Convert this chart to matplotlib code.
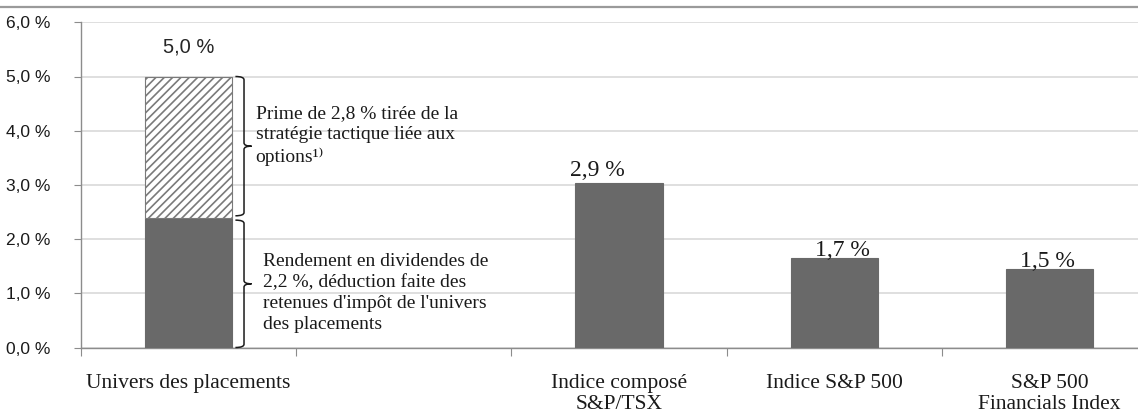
import matplotlib
matplotlib.use("Agg")
import matplotlib.pyplot as plt
from matplotlib.lines import Line2D
from matplotlib.path import Path
from matplotlib.patches import PathPatch

# data
categories = ['Univers des placements', 'Indice composé\nS&P/TSX',
              'Indice S&P 500', 'S&P 500\nFinancials Index']
dividend = [2.39, 3.03, 1.66, 1.45]      # solid part of each bar
premium = [2.61, 0, 0, 0]                # hatched part (options strategy)
value_labels = ['5,0 %', '2,9 %', '1,7 %', '1,5 %']
yticks = [0, 1, 2, 3, 4, 5, 6]
ytick_labels = ['0,0 %', '1,0 %', '2,0 %', '3,0 %', '4,0 %', '5,0 %', '6,0 %']
note_premium = 'Prime de 2,8 % tirée de la\nstratégie tactique liée aux\noptions\u00b9\u207e'
note_dividend = ("Rendement en dividendes de\n2,2 %, déduction faite des\n"
                 "retenues d'impôt de l'univers\ndes placements")

# layout: one empty slot between the first bar and the indices
slots = [0, 2, 3, 4]
label_dx = [0, -0.1, 0.04, -0.01]
label_dy = [0.55, 0.13, 0.03, 0.03]
width = 0.405
bar_col = '#696969'
grid_col = '#d9d9d9'
axis_col = '#8c8c8c'
serif = ['Liberation Serif', 'DejaVu Serif']
sans = 'Liberation Sans'

fig = plt.figure(figsize=(11.38, 4.13), dpi=100)
ax = fig.add_axes([81 / 1138, 1 - 347.5 / 413, 1076 / 1138, 325.2 / 413])

plt.rcParams['hatch.linewidth'] = 1.2
ax.bar(slots, dividend, width, color=bar_col, edgecolor=bar_col, linewidth=0.8, zorder=3)
ax.bar(slots[:1], premium[:1], width, bottom=dividend[:1], color='white',
       edgecolor='#7a7a7a', hatch='////', linewidth=0.8, zorder=3)

ax.set_xlim(-0.5, 4.5)
ax.set_ylim(0, 6)
ax.set_yticks(yticks)
ax.set_yticklabels(ytick_labels, family=sans, fontsize=12.5, color='#1a1a1a')
ax.tick_params(axis='y', length=5, width=0.8, color=axis_col, pad=17)
ax.yaxis.grid(True, color=grid_col, linewidth=1.2, zorder=0)
ax.set_axisbelow(True)

ax.set_xticks([-0.5, 0.5, 1.5, 2.5, 3.5])
ax.set_xticklabels([])
ax.tick_params(axis='x', which='major', length=6, width=0.8, color=axis_col)
ax.set_xticks(slots, minor=True)
ax.set_xticklabels(categories, minor=True, family=serif, fontsize=15.5, color='#1a1a1a')
ax.tick_params(axis='x', which='minor', length=0, pad=19)
for lab in ax.get_xticklabels(minor=True):
    lab.set_linespacing(1.12)

for s in ['top', 'right']:
    ax.spines[s].set_visible(False)
for s in ['left', 'bottom']:
    ax.spines[s].set_color(axis_col)
    ax.spines[s].set_linewidth(1.0)

# value labels
totals = [d + p for d, p in zip(dividend, premium)]
ax.text(slots[0], totals[0] + label_dy[0], value_labels[0], ha='center', va='center',
        family=sans, fontsize=14.5, color='#262626')
for i in range(1, len(slots)):
    ax.text(slots[i] + label_dx[i], totals[i] + label_dy[i], value_labels[i],
            ha='center', va='baseline', family=serif, fontsize=17, color='#1a1a1a')


def brace(ax, x0, x1, xtip, ylo, yhi, r=0.06):
    ymid = (ylo + yhi) / 2
    verts = [(x0, yhi), (x1, yhi), (x1, yhi - r),
             (x1, ymid + r), (x1, ymid), (xtip, ymid),
             (x1, ymid), (x1, ymid - r),
             (x1, ylo + r), (x1, ylo), (x0, ylo)]
    codes = [Path.MOVETO, Path.CURVE3, Path.CURVE3,
             Path.LINETO, Path.CURVE3, Path.CURVE3,
             Path.CURVE3, Path.CURVE3,
             Path.LINETO, Path.CURVE3, Path.CURVE3]
    ax.add_patch(PathPatch(Path(verts, codes), fill=False, lw=1.1,
                           ec='#1a1a1a', clip_on=False, zorder=4))


bx0 = slots[0] + width / 2 + 0.015
brace(ax, bx0, bx0 + 0.04, bx0 + 0.075, dividend[0] + 0.04, totals[0])
brace(ax, bx0, bx0 + 0.04, bx0 + 0.075, 0, dividend[0] - 0.04)

ax.text(slots[0] + 0.312, 4.47, note_premium, ha='left', va='top',
        family=serif, fontsize=14, color='#1a1a1a', linespacing=1.3)
ax.text(slots[0] + 0.344, 1.0, note_dividend, ha='left', va='center',
        family=serif, fontsize=14, color='#1a1a1a', linespacing=1.3)

# rule at the very top of the page
fig.add_artist(Line2D([0, 1], [1 - 6.5 / 413] * 2, color='#9a9a9a', lw=1.6))

fig.savefig('out.png', dpi=100)
